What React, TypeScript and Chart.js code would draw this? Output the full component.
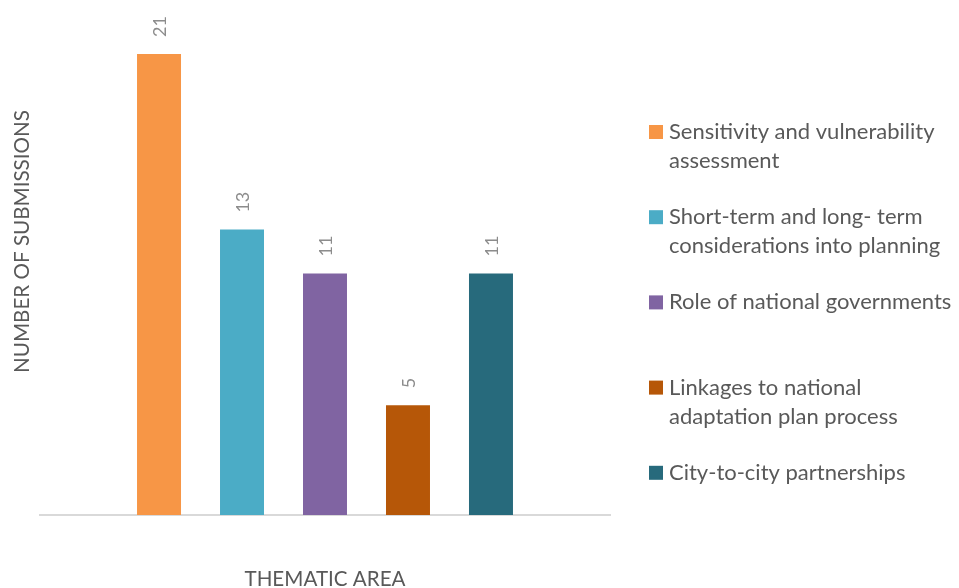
import React, { useEffect, useRef } from "react";
import { Chart, registerables } from "chart.js";

Chart.register(...registerables);

const categories = [
  "Sensitivity and vulnerability assessment",
  "Short-term and long- term considerations into planning",
  "Role of national governments",
  "Linkages to national adaptation plan process",
  "City-to-city partnerships",
];
const legendLines = [
  ["Sensitivity and vulnerability", "assessment"],
  ["Short-term and long- term", "considerations into planning"],
  ["Role of national governments"],
  ["Linkages to national", "adaptation plan process"],
  ["City-to-city partnerships"],
];
const submissions = [21, 13, 11, 5, 11];
const colors = ["#F79646", "#4BACC6", "#8064A2", "#B65708", "#276A7C"];
const yTitle = "NUMBER OF SUBMISSIONS";
const xTitle = "THEMATIC AREA";
const FONT = "Lato, 'Open Sans', sans-serif";

const textPlugin = {
  id: "customText",
  afterDraw(chart: any) {
    const ctx = chart.ctx;
    const area = chart.chartArea;
    ctx.save();
    // data labels
    ctx.fillStyle = "#8c8c8c";
    ctx.font = `18px ${FONT}`;
    chart.data.datasets.forEach((ds: any, i: number) => {
      const meta = chart.getDatasetMeta(i);
      meta.data.forEach((el: any, j: number) => {
        ctx.save();
        ctx.translate(el.x, el.y - 17);
        ctx.rotate(-Math.PI / 2);
        ctx.textAlign = "left";
        ctx.textBaseline = "middle";
        ctx.fillText(String(ds.data[j]), 0, 1);
        ctx.restore();
      });
    });
    // axis titles
    ctx.fillStyle = "#595959";
    ctx.font = `20.6px ${FONT}`;
    ctx.textAlign = "center";
    ctx.textBaseline = "alphabetic";
    ctx.fillText(xTitle, (area.left + area.right) / 2, 586);
    ctx.save();
    ctx.translate(28.5, 241.5);
    ctx.rotate(-Math.PI / 2);
    ctx.fillText(yTitle, 0, 0);
    ctx.restore();
    // legend
    const legendTop = 125;
    const step = 85.2;
    ctx.font = `22px ${FONT}`;
    ctx.textAlign = "left";
    legendLines.forEach((lines, i) => {
      const top = legendTop + i * step;
      ctx.fillStyle = colors[i];
      ctx.fillRect(649, top, 14, 14);
      ctx.fillStyle = "#595959";
      lines.forEach((ln, k) => {
        ctx.fillText(ln, 669, top + 14 + k * 29);
      });
    });
    ctx.restore();
  },
};

export default function App() {
  const ref = useRef<HTMLCanvasElement | null>(null);
  useEffect(() => {
    document.body.style.margin = "0";
    if (!ref.current) return;
    const chart = new Chart(ref.current, {
      type: "bar",
      data: {
        labels: [""],
        datasets: categories.map((c, i) => ({
          label: c,
          data: [submissions[i]],
          backgroundColor: colors[i],
          borderWidth: 0,
          categoryPercentage: 0.728,
          barPercentage: 0.53,
        })),
      },
      options: {
        responsive: false,
        animation: false,
        layout: { padding: { left: 40, right: 349, top: 54, bottom: 73 } },
        plugins: { legend: { display: false }, tooltip: { enabled: false } },
        scales: {
          x: {
            grid: { display: false, drawTicks: false },
            border: { display: true, color: "#d9d9d9", width: 2 },
            ticks: { display: false },
          },
          y: { display: false, min: 0, max: 21 },
        },
      },
      plugins: [textPlugin],
    });
    return () => chart.destroy();
  }, []);
  return (
    <div style={{ position: "relative", width: 959, height: 588, background: "#fff" }}>
      <canvas ref={ref} width={959} height={588} />
    </div>
  );
}
